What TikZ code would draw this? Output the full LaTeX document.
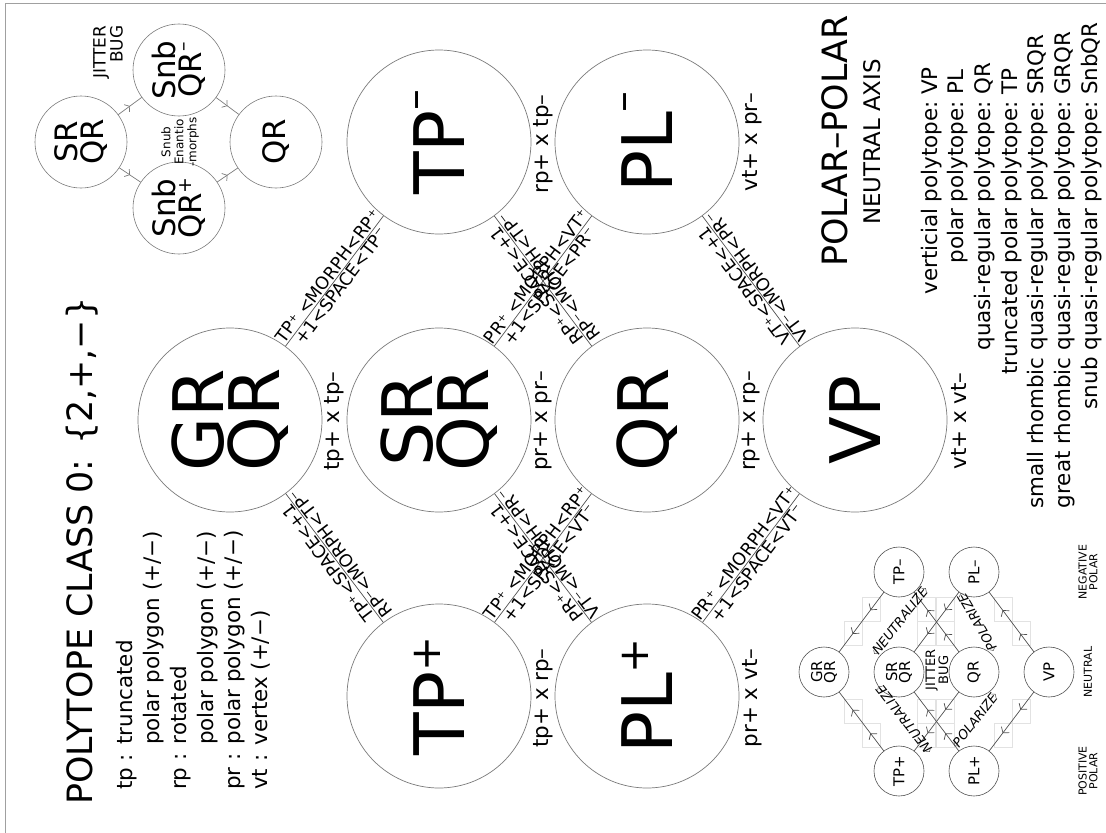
\documentclass[tikz,border=0pt]{standalone}
\usepackage{fontspec}
\setmainfont{DejaVu Sans}
\usetikzlibrary{arrows.meta,decorations.markings,calc}
\definecolor{cgray}{HTML}{7A7A7A}
\definecolor{lgray}{HTML}{505050}
\definecolor{fgray}{HTML}{A0A0A0}
\definecolor{boxgray}{HTML}{E2E2E2}
\newcommand{\bigsup}[2]{\raisebox{#2}{\fontsize{42}{42}\selectfont #1}}
\newcommand{\midsup}[2]{\raisebox{#2}{\fontsize{19}{19}\selectfont #1}}
\begin{document}
\begin{tikzpicture}[x=1bp,y=-1bp,
  chev/.tip={Straight Barb[length=4bp,width=10bp]},
  mchev/.tip={Straight Barb[length=3.5bp,width=9bp]},
  tinyarr/.tip={Straight Barb[length=2.5bp,width=6bp]},
  rot/.style={rotate=90,inner sep=0pt},
  bigc/.style={circle,draw=cgray,line width=0.7bp,minimum size=184bp,inner sep=0pt,align=center,rotate=90,font=\fontsize{70}{56}\selectfont},
  midc/.style={circle,draw=cgray,line width=0.6bp,minimum size=92bp,inner sep=0pt,align=center,rotate=90,font=\fontsize{31}{26}\selectfont},
  smc/.style={circle,draw=lgray,line width=0.6bp,minimum size=50bp,inner sep=0pt,align=center,rotate=90,font=\fontsize{15}{13}\selectfont},
  conn/.style={draw=lgray,line width=0.7bp},
  lab/.style={font=\fontsize{17.5}{19}\selectfont,sloped,inner sep=1.2bp},
  ud/.style={allow upside down},
  rowlab/.style={rot,font=\fontsize{21.5}{26}\selectfont},
  legend/.style={rot,anchor=base west,font=\fontsize{21.5}{26}\selectfont},
  defl/.style={rot,anchor=base east,font=\fontsize{21.5}{26}\selectfont},
  defr/.style={rot,anchor=base west,font=\fontsize{21.5}{26}\selectfont},
  onemid/.style={postaction={decorate},decoration={markings,mark=at position 0.5 with {\arrow{mchev}}}},
  twomid/.style={postaction={decorate},decoration={markings,mark=at position 0.3 with {\arrow{chev}},mark=at position 0.7 with {\arrow{chev}}}},
  cbox/.style={draw=boxgray,line width=0.5bp},
  izl/.style={font=\fontsize{13}{13}\selectfont\itshape,inner sep=1pt},
  endarr/.style={draw=lgray,line width=0.5bp,-tinyarr},
]
\useasboundingbox (0,0) rectangle (1106,833);
\draw[fgray,line width=0.8bp] (5,833) -- (5,3) -- (1106,3);

% title and legend
\node[rot,anchor=base west,font=\fontsize{35}{40}\selectfont] (title) at (92,805) {POLYTOPE CLASS 0: \{2,+,−\}};
\node[legend] (l1) at (132,790) {tp : truncated};
\node[legend] (l2) at (159,745) {polar polygon (+/−)};
\node[legend] (l3) at (186,790) {rp : rotated};
\node[legend] (l4) at (213,745) {polar polygon (+/−)};
\node[legend] (l5) at (240,790) {pr : polar polygon (+/−)};
\node[legend] (l6) at (267,790) {vt : vertex (+/−)};

% top-left snub diagram
\node[midc] (s1) at (81,142) {SR\\QR};
\node[midc] (s2) at (179,70) {Snb\\QR\midsup{–}{12bp}};
\node[midc] (s3) at (179,208) {Snb\\QR\midsup{+}{10bp}};
\node[midc] (s4) at (276,142) {QR};
\draw[conn,draw=cgray,onemid] (s1) -- (s2);
\draw[conn,draw=cgray,onemid] (s1) -- (s3);
\draw[conn,draw=cgray,onemid] (s2) -- (s4);
\draw[conn,draw=cgray,onemid] (s3) -- (s4);
\node[rot,align=right,font=\fontsize{17}{15}\selectfont] (jb) at (108,52) {JITTER\\BUG};
\node[rot,align=center,font=\fontsize{12}{13}\selectfont] (se) at (180,142) {Snub\\Enantio\\-morphs};

% big lattice
\node[bigc] (GR) at (230,420) {GR\\QR};
\node[bigc] (SR) at (439,420) {SR\\QR};
\node[bigc] (QR) at (647,420) {QR};
\node[bigc] (VP) at (855,420) {VP};
\node[bigc] (TPm) at (439,142) {TP\bigsup{–}{36bp}};
\node[bigc] (PLm) at (647,142) {PL\bigsup{–}{36bp}};
\node[bigc] (TPp) at (439,696) {TP\bigsup{+}{24bp}};
\node[bigc] (PLp) at (647,696) {PL\bigsup{+}{24bp}};

\node[rowlab] (r1) at (334.5,421) {tp+ x tp–};
\node[rowlab] (r2) at (543,421) {pr+ x pr–};
\node[rowlab] (r3) at (751,421) {rp+ x rp–};
\node[rowlab] (r4) at (959,421) {vt+ x vt–};
\node[rowlab] (r5) at (543,144) {rp+ x tp–};
\node[rowlab] (r6) at (752,142) {vt+ x pr–};
\node[rowlab] (r7) at (543,698) {tp+ x rp–};
\node[rowlab] (r8) at (752,698) {pr+ x vt–};

\draw[conn] (GR) -- (TPm) node[lab,midway,above]{TP⁺ <MORPH<RP⁺} node[lab,midway,below]{+1<SPACE<TP⁻};
\draw[conn] (TPp) -- (GR) node[lab,ud,midway,above]{TP⁺<SPACE<+1} node[lab,ud,midway,below]{RP⁻<MORPH<TP⁻};
\draw[conn] (SR) -- (PLm) node[lab,midway,above]{PR⁺ <MORPH<VT⁺} node[lab,midway,below]{+1<SPACE<PR⁻};
\draw[conn] (QR) -- (TPm) node[lab,ud,midway,above]{RP⁺<SPACE<+1} node[lab,ud,midway,below]{RP⁻<MORPH<TP⁻};
\draw[conn] (TPp) -- (QR) node[lab,midway,above]{TP⁺ <MORPH<RP⁺} node[lab,midway,below]{+1<SPACE<VT⁻};
\draw[conn] (PLp) -- (SR) node[lab,ud,midway,above]{PR⁺<SPACE<+1} node[lab,ud,midway,below]{VT⁻<MORPH<PR⁻};
\draw[conn] (VP) -- (PLm) node[lab,ud,midway,above]{VT⁺<SPACE<+1} node[lab,ud,midway,below]{VT⁻<MORPH<PR⁻};
\draw[conn] (PLp) -- (VP) node[lab,midway,above]{PR⁺ <MORPH<VT⁺} node[lab,midway,below]{+1<SPACE<VT⁻};

% right texts
\node[rot,anchor=base,font=\fontsize{35}{40}\selectfont] (pp) at (847,141) {POLAR–POLAR};
\node[rot,anchor=base,font=\fontsize{23}{26}\selectfont] (na) at (880,142) {NEUTRAL AXIS};
\node[defl] (d1) at (937,101) {verticial polytope:};
\node[defr] (v1) at (937,95) {VP};
\node[defl] (d2) at (963.7,101) {polar polytope:};
\node[defr] (v2) at (963.7,95) {PL};
\node[defl] (d3) at (990.4,101) {quasi-regular polytope:};
\node[defr] (v3) at (990.4,95) {QR};
\node[defl] (d4) at (1017,101) {truncated polar polytope:};
\node[defr] (v4) at (1017,95) {TP};
\node[defl] (d5) at (1043.8,101) {small rhombic quasi-regular polytope:};
\node[defr] (v5) at (1043.8,95) {SRQR};
\node[defl] (d6) at (1070.5,101) {great rhombic quasi-regular polytope:};
\node[defr] (v6) at (1070.5,95) {GRQR};
\node[defl] (d7) at (1097,101) {snub quasi-regular polytope:};
\node[defr] (v7) at (1097,95) {SnbQR};

% small diagram: faint marker boxes
\foreach \cx/\cy in {871/609, 853/633, 871/735, 853/711, 926/609, 945/633, 945/711, 926/735,
                     945/609, 926/633, 926/711, 945/735, 1003/609, 1021/633, 1021/711, 1003/735}
  \draw[cbox] (\cx-9,\cy-12) rectangle (\cx+9,\cy+12);
\node[smc] (gGR) at (824,672) {GR\\QR};
\node[smc] (gSR) at (899,672) {SR\\QR};
\node[smc] (gQR) at (974,672) {QR};
\node[smc] (gVP) at (1049,672) {VP};
\node[smc] (gTm) at (899,572) {TP–};
\node[smc] (gPm) at (974,572) {PL–};
\node[smc] (gTp) at (899,771) {TP+};
\node[smc] (gPp) at (974,771) {PL+};
\draw[conn,twomid] (gTm) -- (gGR);
\draw[conn,twomid] (gTp) -- (gGR);
\draw[conn,twomid] (gQR) -- (gTm);
\draw[conn,twomid] (gPm) -- (gSR);
\draw[conn,twomid] (gPp) -- (gSR);
\draw[conn,twomid] (gQR) -- (gTp);
\draw[conn,twomid] (gVP) -- (gPm);
\draw[conn,twomid] (gVP) -- (gPp);
\node[rot,align=center,font=\fontsize{13}{12}\selectfont] (jb2) at (937,670) {JITTER\\BUG};
\node[rot,align=center,font=\fontsize{11}{11}\selectfont] (np) at (1088,572) {NEGATIVE\\POLAR};
\node[rot,align=center,font=\fontsize{11}{11}\selectfont] (nn) at (1088,672) {NEUTRAL};
\node[rot,align=center,font=\fontsize{11}{11}\selectfont] (pq) at (1088,771) {POSITIVE\\POLAR};
\node[izl,rotate=52] (nz1) at (900,621) {NEUTRALIZE};
\node[izl,rotate=128] (nz2) at (904,719) {NEUTRALIZE};
\node[izl,rotate=120] (pz1) at (977,622) {POLARIZE};
\node[izl,rotate=52] (pz2) at (975,720) {POLARIZE};
\foreach \n in {nz1,nz2,pz1,pz2}{
  \draw[endarr] ($(\n.west)!1bp!(\n.east)$) -- (\n.west);
  \draw[endarr] ($(\n.east)!1bp!(\n.west)$) -- (\n.east);
}
\end{tikzpicture}
\end{document}
